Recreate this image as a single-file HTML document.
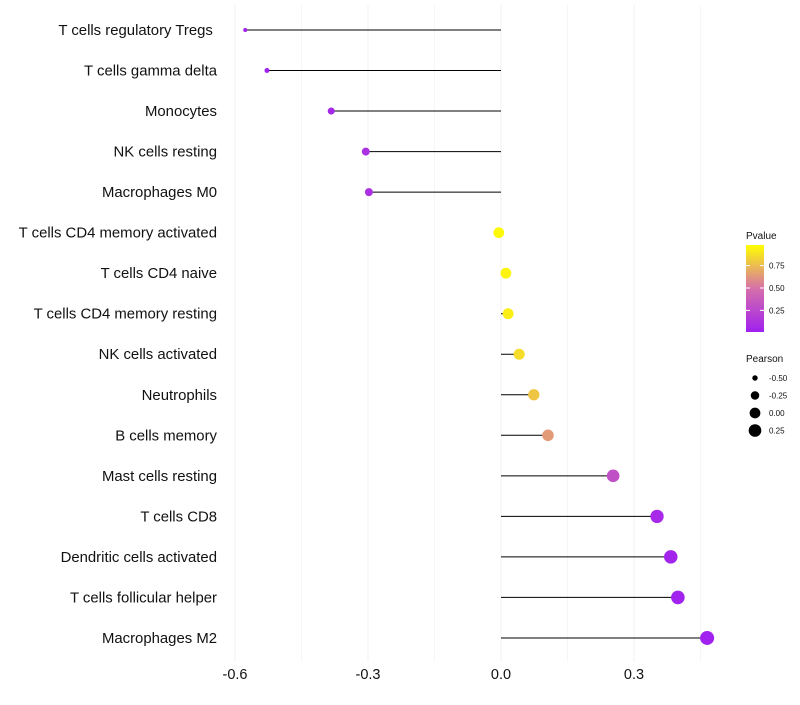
<!DOCTYPE html>
<html><head><meta charset="utf-8"><style>
body{margin:0;background:#fff;font-family:"Liberation Sans",sans-serif}
</style></head><body>
<svg id="chart" width="800" height="700" xmlns="http://www.w3.org/2000/svg"></svg>
<script>
const categories=["T cells regulatory  Tregs\u00a0","T cells gamma delta","Monocytes","NK cells resting","Macrophages M0","T cells CD4 memory activated","T cells CD4 naive","T cells CD4 memory resting","NK cells activated","Neutrophils","B cells memory","Mast cells resting","T cells CD8","Dendritic cells activated","T cells follicular helper","Macrophages M2"];
const pearson=[-0.577,-0.528,-0.383,-0.305,-0.298,-0.005,0.011,0.016,0.041,0.074,0.106,0.253,0.352,0.383,0.399,0.465];
const pvalues=[0.01,0.02,0.05,0.1,0.1,0.98,0.96,0.94,0.88,0.8,0.65,0.3,0.06,0.03,0.02,0.01];
const xTicks=[-0.6,-0.3,0.0,0.3];
const xTickLabels=["-0.6","-0.3","0.0","0.3"];
const pLegendTicks=[0.25,0.5,0.75];
const sizeLegend=[-0.5,-0.25,0.0,0.25];

const svg=document.getElementById('chart');
const NS="http://www.w3.org/2000/svg";
function mk(t,a,p){const e=document.createElementNS(NS,t);for(const k in a)e.setAttribute(k,a[k]);(p||svg).appendChild(e);return e;}
const x=v=>501+v*443.3;
const y=i=>30+i*40.53;
const rad=v=>Math.sqrt(Math.max(1,29+43.3*v));
function lerp(a,b,t){return a.map((c,i)=>Math.round(c+(b[i]-c)*t));}
function col(p){const s=[[160,32,240],[214,112,170],[255,255,0]];let c=p<0.5?lerp(s[0],s[1],p/0.5):lerp(s[1],s[2],(p-0.5)/0.5);return `rgb(${c.join(',')})`;}

const grid=mk('g',{});


[-0.6,-0.45,-0.3,-0.15,0,0.15,0.3,0.45].forEach(v=>{mk('line',{x1:x(v),x2:x(v),y1:5,y2:662,stroke:'#f0f0f0','stroke-width':(Math.abs(v*100)%30<1)?1:0.6},grid);});

xTicks.forEach((v,i)=>{const t=mk('text',{x:x(v),y:679,'text-anchor':'middle','font-size':14.5,fill:'#111'});t.textContent=xTickLabels[i];

});

categories.forEach((c,i)=>{
 const t=mk('text',{x:217,y:y(i)+5,'text-anchor':'end','font-size':14.9,fill:'#111'});t.textContent=c;
 t.setAttribute('xml:space','preserve');
 
 
 const l=mk('line',{x1:x(0),x2:x(pearson[i]),y1:y(i),y2:y(i),stroke:'#000','stroke-width':1});
 
 
 const d=mk('circle',{cx:x(pearson[i]),cy:y(i),r:rad(pearson[i]),fill:col(pvalues[i])});
 
 
});

const lg=mk('g',{});


const defs=mk('defs',{});
const gr=mk('linearGradient',{id:'pg',x1:0,y1:1,x2:0,y2:0},defs);
[[0,col(0)],[0.5,col(0.5)],[1,col(1)]].forEach(s=>mk('stop',{offset:s[0],'stop-color':s[1]},gr));
const lt=mk('text',{x:746,y:239,'font-size':10,fill:'#111'},lg);lt.textContent='Pvalue';
mk('rect',{x:746,y:245,width:18,height:87,fill:'url(#pg)'},lg);
const py=p=>331-(p-0.02)/(0.98-0.02)*86;
pLegendTicks.forEach(p=>{mk('line',{x1:746,x2:750,y1:py(p),y2:py(p),stroke:'#fff'},lg);mk('line',{x1:760,x2:764,y1:py(p),y2:py(p),stroke:'#fff'},lg);
 const t=mk('text',{x:769,y:py(p)+3,'font-size':8,fill:'#111'},lg);t.textContent=p.toFixed(2);});

const sg=mk('g',{});


const st=mk('text',{x:746,y:362,'font-size':10,fill:'#111'},sg);st.textContent='Pearson';
sizeLegend.forEach((v,i)=>{const cy=378+i*17.5;mk('circle',{cx:755,cy:cy,r:rad(v),fill:'#000'},sg);
 const t=mk('text',{x:769,y:cy+3,'font-size':8,fill:'#111'},sg);t.textContent=v.toFixed(2);});
</script>
</body></html>
